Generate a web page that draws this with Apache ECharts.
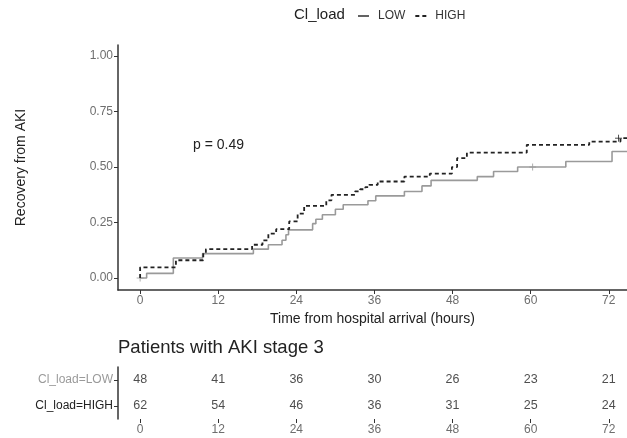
<!DOCTYPE html>
<html>
<head>
<meta charset="utf-8">
<script src="https://cdn.jsdelivr.net/npm/echarts@6/dist/echarts.min.js"></script>
<style>
  html, body { margin: 0; padding: 0; background: #fff; }
  #main { width: 627px; height: 438px; }
</style>
</head>
<body>
<div id="main"></div>
<script>
// hours after arrival where the curve steps, and the value after the step
var lowTimes  = [0, 1, 5.1, 9.6, 17.4, 19.7, 21.8, 22.4, 22.8, 26.5, 27, 28, 30, 31.2, 35, 36.2, 40.6, 43.3, 44.7, 51.8, 54.3, 58, 65.4, 72.5, 74.8];
var lowValues = [0, 0.021, 0.09, 0.11, 0.13, 0.15, 0.17, 0.195, 0.217, 0.245, 0.265, 0.285, 0.31, 0.33, 0.348, 0.37, 0.39, 0.415, 0.44, 0.457, 0.48, 0.5, 0.525, 0.57, 0.57];
var highTimes  = [0, 0, 5.5, 9.7, 10.1, 17.2, 18.8, 19.7, 20.9, 22.9, 24.2, 25.2, 28.6, 29.4, 33, 33.8, 34.6, 35.2, 36.5, 40.6, 44.5, 47.9, 48.7, 50.2, 59.4, 69, 73.8, 74.8];
var highValues = [0, 0.048, 0.08, 0.113, 0.13, 0.15, 0.17, 0.2, 0.22, 0.255, 0.29, 0.325, 0.35, 0.375, 0.39, 0.4, 0.41, 0.42, 0.435, 0.457, 0.47, 0.5, 0.54, 0.565, 0.6, 0.615, 0.63, 0.63];
var lowCensor  = [[0, 0], [60.3, 0.5]];
var highCensor = [[73.5, 0.63]];

var hourTicks = [0, 12, 24, 36, 48, 60, 72];
var yTicks = [0, 0.25, 0.5, 0.75, 1];
var groups = ['Cl_load=HIGH', 'Cl_load=LOW'];
var lowAtRisk  = [48, 41, 36, 30, 26, 23, 21];
var highAtRisk = [62, 54, 46, 36, 31, 25, 24];
var pText = 'p = 0.49';

var axisDark = '#333';
var tickGray = '#6e6e6e';
var lowGray = '#9a9a9a';
var font = 'Liberation Sans, Arial, sans-serif';

function zip(xs, ys) {
  return xs.map(function (x, i) { return [x, ys[i]]; });
}
var riskData = [];
hourTicks.forEach(function (h, i) {
  riskData.push([h, 'Cl_load=LOW', lowAtRisk[i]]);
  riskData.push([h, 'Cl_load=HIGH', highAtRisk[i]]);
});

function timeAxis(idx, withName) {
  var ax = {
    gridIndex: idx, type: 'value', min: -3.4, max: 74.8,
    axisLine: { onZero: false, lineStyle: { color: axisDark, width: 1.5 } },
    axisTick: { show: true, length: 4, customValues: hourTicks, lineStyle: { color: axisDark } },
    axisLabel: { customValues: hourTicks, color: tickGray, fontSize: 12, margin: 5 },
    splitLine: { show: false }
  };
  if (withName) {
    ax.name = 'Time from hospital arrival (hours)';
    ax.nameLocation = 'middle';
    ax.nameGap = 22;
    ax.nameTextStyle = { fontSize: 14, color: '#222' };
  }
  return ax;
}

var chart = echarts.init(document.getElementById('main'));
var option = {
  animation: false,
  textStyle: { fontFamily: font },
  legend: {
    data: [
      { name: 'LOW', icon: 'path://M0,0h12v2h-12z' },
      { name: 'HIGH', icon: 'path://M0,0h4v2h-4zM7,0h4v2h-4z' }
    ],
    left: 353,
    top: 5,
    itemWidth: 11,
    itemHeight: 2,
    itemGap: 10,
    textStyle: { fontSize: 12, color: '#333', padding: [0, 0, 0, 4] }
  },
  graphic: [
    { type: 'text', left: 294, top: 7, style: { text: 'Cl_load', font: '15px ' + font, fill: '#222' } },
    { type: 'text', left: 193, top: 138, style: { text: pText, font: '14px ' + font, fill: '#222' } },
    { type: 'text', left: 118, top: 338, style: { text: 'Patients with AKI stage 3', font: '18.5px ' + font, fill: '#222' } }
  ],
  grid: [
    { left: 118, top: 45, right: 0, height: 245 },
    { left: 118, top: 367, right: 0, height: 52 }
  ],
  xAxis: [timeAxis(0, true), timeAxis(1, false)],
  yAxis: [
    {
      gridIndex: 0, type: 'value', min: -0.054, max: 1.05,
      name: 'Recovery from AKI', nameLocation: 'middle', nameGap: 90,
      nameTextStyle: { fontSize: 14, color: '#222' },
      axisLine: { show: true, onZero: false, lineStyle: { color: axisDark, width: 1.5 } },
      axisTick: { show: true, length: 4, customValues: yTicks, lineStyle: { color: axisDark } },
      axisLabel: {
        customValues: yTicks, color: tickGray, fontSize: 12, margin: 5,
        formatter: function (v) { return v.toFixed(2); }
      },
      splitLine: { show: false }
    },
    {
      gridIndex: 1, type: 'category', data: groups,
      axisLine: { show: true, onZero: false, lineStyle: { color: axisDark, width: 1.5 } },
      axisTick: { show: true, length: 4, alignWithLabel: true, lineStyle: { color: axisDark } },
      axisLabel: {
        fontSize: 12, margin: 5,
        formatter: function (v) { return v === 'Cl_load=LOW' ? '{low|' + v + '}' : '{high|' + v + '}'; },
        rich: { low: { color: lowGray, fontSize: 12 }, high: { color: '#222', fontSize: 12 } }
      },
      splitLine: { show: false }
    }
  ],
  series: [
    {
      name: 'LOW', type: 'line', xAxisIndex: 0, yAxisIndex: 0, step: 'end',
      data: zip(lowTimes, lowValues), showSymbol: false, symbol: 'none',
      color: '#555', lineStyle: { color: lowGray, width: 1.6 }
    },
    {
      name: 'HIGH', type: 'line', xAxisIndex: 0, yAxisIndex: 0, step: 'end',
      data: zip(highTimes, highValues), showSymbol: false, symbol: 'none',
      color: '#222', lineStyle: { color: '#222', width: 1.8, type: [4, 3] }
    },
    {
      name: 'lowCensor', type: 'scatter', xAxisIndex: 0, yAxisIndex: 0,
      data: lowCensor, symbol: 'path://M0,-5L0,5M-5,0L5,0', symbolSize: 7,
      itemStyle: { color: 'none', borderColor: lowGray, borderWidth: 1 }
    },
    {
      name: 'highCensor', type: 'scatter', xAxisIndex: 0, yAxisIndex: 0,
      data: highCensor, symbol: 'path://M0,-5L0,5M-5,0L5,0', symbolSize: 7,
      itemStyle: { color: 'none', borderColor: '#222', borderWidth: 1 }
    },
    {
      name: 'atRisk', type: 'scatter', xAxisIndex: 1, yAxisIndex: 1,
      data: riskData, symbolSize: 0,
      label: {
        show: true, position: 'inside', color: '#222', fontSize: 12.5,
        formatter: function (p) { return p.value[2]; }
      }
    }
  ]
};
chart.setOption(option);
</script>
</body>
</html>
